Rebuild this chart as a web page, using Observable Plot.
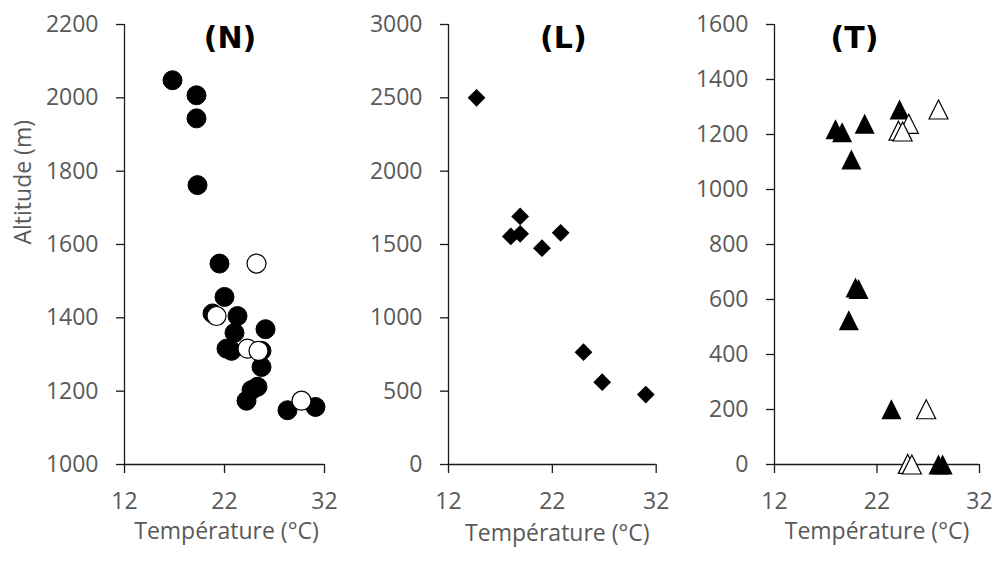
<!DOCTYPE html>
<html>
<head>
<meta charset="utf-8">
<script src="https://cdn.jsdelivr.net/npm/d3@7"></script>
<script src="https://cdn.jsdelivr.net/npm/@observablehq/plot@0.6"></script>
<style>
  body { margin: 0; background: #fff; }
  #wrap { position: relative; width: 998px; height: 561px; overflow: hidden; background: #fff; }
  #wrap svg { position: absolute; top: 0; }
</style>
</head>
<body>
<div id="wrap"></div>
<script>
// ---------- Data ----------
const xTicks = [12, 22, 32];

// Panel (N)
const tempNFilled = [16.8, 19.2, 19.2, 19.3, 21.5, 22.0, 20.8, 23.3, 23.0, 26.1, 22.2, 22.7, 25.7, 25.7, 25.3, 24.7, 24.2, 28.3, 31.1];
const altNFilled  = [2048, 2007, 1944, 1762, 1548, 1457, 1412, 1405, 1359, 1369, 1316, 1310, 1310, 1266, 1212, 1203, 1174, 1148, 1157];
const tempNOpen = [25.2, 21.2, 24.3, 25.4, 29.7];
const altNOpen  = [1548, 1405, 1316, 1310, 1174];
const yTicksN = [1000, 1200, 1400, 1600, 1800, 2000, 2200];

// Panel (L)
const tempL = [14.7, 18.9, 18.0, 18.9, 21.0, 22.8, 25.0, 26.8, 31.0];
const altL  = [2500, 1691, 1555, 1573, 1475, 1580, 766, 561, 477];
const yTicksL = [0, 500, 1000, 1500, 2000, 2500, 3000];

// Panel (T)
const tempTFilled = [17.95, 18.6, 20.8, 19.5, 24.2, 19.9, 20.2, 19.25, 23.4, 28.0, 28.4];
const altTFilled  = [1219, 1208, 1239, 1109, 1291, 644, 638, 525, 201, 0, 0];
const tempTOpen = [28.0, 25.1, 24.1, 24.5, 26.8, 25.0, 25.4];
const altTOpen  = [1291, 1239, 1214, 1211, 201, 2, 0];
const yTicksT = [0, 200, 400, 600, 800, 1000, 1200, 1400, 1600];

const titles = ["(N)", "(L)", "(T)"];
const xLabel = "Température (°C)";
const yLabel = "Altitude (m)";

// ---------- Helpers ----------
const zip = (xs, ys) => xs.map((x, i) => ({x, y: ys[i]}));

// Excel-like isoceles triangle (width = height), centred on its bounding box
const excelTriangle = {
  draw(context, size) {
    const a = Math.sqrt(size / Math.PI);
    context.moveTo(0, -a);
    context.lineTo(a, a);
    context.lineTo(-a, a);
    context.closePath();
  }
};

const TICK = "#595959";
const AXIS = "#1a1a1a";
const FS = 23;

function panel({left, width, marginLeft, marginRight, yDomain, yTicks, title, titleDx, xLabelDx, xLabelDy, showY, dots}) {
  const svg = Plot.plot({
    width, height: 561,
    marginTop: 24, marginBottom: 97, marginLeft, marginRight,
    x: {domain: [12, 32]},
    y: {domain: yDomain},
    style: {fontFamily: "'Open Sans', sans-serif", fontSize: FS + "px", background: "transparent", overflow: "visible"},
    marks: [
      Plot.axisX({ticks: xTicks, tickSize: 9, tickPadding: 19, label: null, stroke: AXIS, strokeWidth: 1.3, fill: TICK, fontSize: FS, tickFormat: d => String(d)}),
      Plot.axisY({ticks: yTicks, tickSize: 8, tickPadding: 18, label: null, stroke: AXIS, strokeWidth: 1.3, fill: TICK, fontSize: FS, tickFormat: d => String(d)}),
      Plot.ruleX([12], {stroke: AXIS, strokeWidth: 1.3}),
      Plot.ruleY([yDomain[0]], {stroke: AXIS, strokeWidth: 1.3}),
      ...dots,
      Plot.text([title], {text: d => d, frameAnchor: "top", lineAnchor: "middle", dy: 13.5, dx: titleDx,
        fontFamily: "'DejaVu Sans', sans-serif", fontWeight: "bold", fontSize: 30, fill: "#000"}),
      Plot.text([xLabel], {text: d => d, frameAnchor: "bottom", lineAnchor: "middle", dy: xLabelDy, dx: xLabelDx,
        fontSize: FS, fill: TICK}),
      ...(showY ? [Plot.text([yLabel], {text: d => d, frameAnchor: "left", lineAnchor: "middle", rotate: -90, dx: -101,
        fontSize: FS, fill: TICK})] : [])
    ]
  });
  svg.style.left = left + "px";
  document.getElementById("wrap").appendChild(svg);
}

// (N)
panel({
  left: 0, width: 340, marginLeft: 124, marginRight: 16,
  yDomain: [1000, 2200], yTicks: yTicksN, title: titles[0], titleDx: 5.5, xLabelDx: 2, xLabelDy: 67, showY: true,
  dots: [
    Plot.dot(zip(tempNFilled, altNFilled), {x: "x", y: "y", r: 9.5, fill: "#000", stroke: "#000", strokeWidth: 1}),
    Plot.dot(zip(tempNOpen, altNOpen), {x: "x", y: "y", r: 9.5, fill: "#fff", stroke: "#000", strokeWidth: 1.2})
  ]
});

// (L)
panel({
  left: 340, width: 325, marginLeft: 108, marginRight: 9.3,
  yDomain: [0, 3000], yTicks: yTicksL, title: titles[1], titleDx: 11, xLabelDx: 5, xLabelDy: 69, showY: false,
  dots: [
    Plot.dot(zip(tempL, altL), {x: "x", y: "y", r: 8, symbol: "diamond2", fill: "#000", stroke: "none"})
  ]
});

// (T)
panel({
  left: 665, width: 333, marginLeft: 109, marginRight: 19,
  yDomain: [0, 1600], yTicks: yTicksT, title: titles[2], titleDx: -22.5, xLabelDx: 0, xLabelDy: 67, showY: false,
  dots: [
    Plot.dot(zip(tempTFilled, altTFilled), {x: "x", y: "y", r: 10, symbol: excelTriangle, fill: "#000", stroke: "none"}),
    Plot.dot(zip(tempTOpen, altTOpen), {x: "x", y: "y", r: 9.5, symbol: excelTriangle, fill: "#fff", stroke: "#000", strokeWidth: 1.2})
  ]
});
</script>
</body>
</html>
